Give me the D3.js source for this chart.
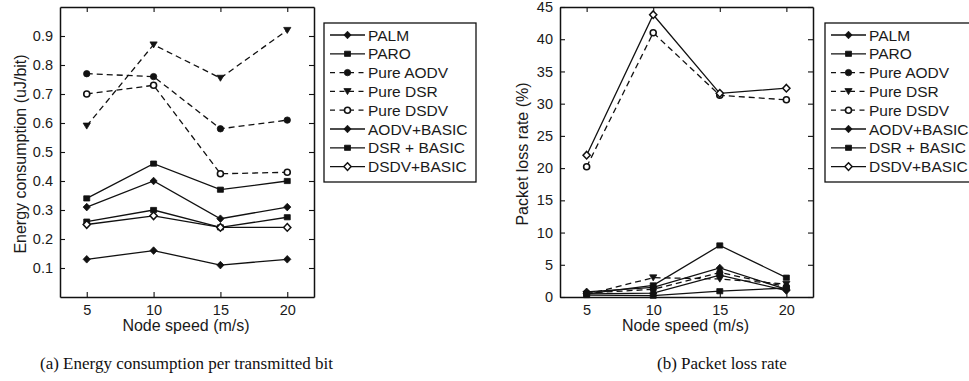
<!DOCTYPE html>
<html>
<head>
<meta charset="utf-8">
<script src="https://cdn.jsdelivr.net/npm/d3@7/dist/d3.min.js"></script>
<style>
  html, body { margin: 0; padding: 0; background: #fff; }
  svg { display: block; }
  .tick text { font-family: "Liberation Sans", Arial, sans-serif; font-size: 14.5px; fill: #1a1a1a; }
  .lbl { font-family: "Liberation Sans", Arial, sans-serif; font-size: 16px; fill: #1a1a1a; }
  .leg { font-family: "Liberation Sans", Arial, sans-serif; font-size: 15.5px; fill: #1a1a1a; }
  .cap { font-family: "Liberation Serif", "Times New Roman", serif; font-size: 17px; fill: #111; }
</style>
</head>
<body>
<svg id="fig" width="969" height="381"></svg>
<script>
// Node speeds (m/s) on the x axis
const speeds = [5, 10, 15, 20];
const xTicks = [5, 10, 15, 20];

const seriesNames = ["PALM", "PARO", "Pure AODV", "Pure DSR", "Pure DSDV",
                     "AODV+BASIC", "DSR + BASIC", "DSDV+BASIC"];

// (a) Energy consumption per transmitted bit (uJ/bit)
const energyPALM      = [0.13, 0.16, 0.11, 0.13];
const energyPARO      = [0.26, 0.30, 0.24, 0.275];
const energyPureAODV  = [0.77, 0.76, 0.58, 0.61];
const energyPureDSR   = [0.59, 0.87, 0.755, 0.92];
const energyPureDSDV  = [0.70, 0.73, 0.425, 0.43];
const energyAODVBasic = [0.31, 0.40, 0.27, 0.31];
const energyDSRBasic  = [0.34, 0.46, 0.37, 0.40];
const energyDSDVBasic = [0.25, 0.28, 0.24, 0.24];
const energyTicks = [0.1, 0.2, 0.3, 0.4, 0.5, 0.6, 0.7, 0.8, 0.9];

// (b) Packet loss rate (%)
const lossPALM      = [0.5, 0.6, 3.4, 1.0];
const lossPARO      = [0.3, 0.2, 0.9, 1.4];
const lossPureAODV  = [0.6, 1.2, 3.8, 1.6];
const lossPureDSR   = [0.4, 3.0, 2.8, 2.0];
const lossPureDSDV  = [20.2, 41.0, 31.3, 30.6];
const lossAODVBasic = [0.8, 1.5, 4.5, 1.2];
const lossDSRBasic  = [0.5, 1.8, 8.0, 3.0];
const lossDSDVBasic = [22.0, 43.8, 31.6, 32.4];
const lossTicks = [0, 5, 10, 15, 20, 25, 30, 35, 40, 45];

const energySeries = [energyPALM, energyPARO, energyPureAODV, energyPureDSR,
                      energyPureDSDV, energyAODVBasic, energyDSRBasic, energyDSDVBasic];
const lossSeries = [lossPALM, lossPARO, lossPureAODV, lossPureDSR,
                    lossPureDSDV, lossAODVBasic, lossDSRBasic, lossDSDVBasic];

// Line style and marker per protocol
const styles = {
  "PALM":        { dash: null,  marker: "diamond" },
  "PARO":        { dash: null,  marker: "square" },
  "Pure AODV":   { dash: "6,4", marker: "circle" },
  "Pure DSR":    { dash: "6,4", marker: "triangle" },
  "Pure DSDV":   { dash: "6,4", marker: "ocircle" },
  "AODV+BASIC":  { dash: null,  marker: "diamond" },
  "DSR + BASIC": { dash: null,  marker: "square" },
  "DSDV+BASIC":  { dash: null,  marker: "odiamond" }
};

const svg = d3.select("#fig");
const ink = "#111";

// compact marker glyphs, drawn around the origin
const glyph = {
  diamond:  "M0,-3.8L3.6,0L0,3.8L-3.6,0Z",
  square:   "M-3,-2.6H3V2.6H-3Z",
  triangle: "M-3.6,-2.8L3.6,-2.8L0,3.2Z",
  odiamond: "M0,-3.8L3.6,0L0,3.8L-3.6,0Z"
};

function drawMarker(g, kind, cx, cy) {
  const t = `translate(${cx},${cy})`;
  if (kind === "circle") {
    g.append("circle").attr("cx", cx).attr("cy", cy).attr("r", 3.2)
      .attr("fill", ink).attr("stroke", ink).attr("stroke-width", 0.8);
  } else if (kind === "ocircle") {
    g.append("circle").attr("cx", cx).attr("cy", cy).attr("r", 3.0)
      .attr("fill", "#fff").attr("stroke", ink).attr("stroke-width", 1.6);
  } else if (kind === "odiamond") {
    g.append("path").attr("transform", t).attr("d", glyph.odiamond)
      .attr("fill", "#fff").attr("stroke", ink).attr("stroke-width", 1.5);
  } else {
    g.append("path").attr("transform", t).attr("d", glyph[kind])
      .attr("fill", ink).attr("stroke", ink).attr("stroke-width", 0.8);
  }
}

function panel(opts) {
  const { left, right, top, bottom, yDomain, yTicks, yFmt, data, ylabel, ylabelX,
          legendX, caption, captionX } = opts;
  const x = d3.scaleLinear().domain([3, 22]).range([left, right]);
  const y = d3.scaleLinear().domain(yDomain).range([bottom, top]);
  const g = svg.append("g");

  // series lines and markers
  const line = d3.line().x(d => x(d[0])).y(d => y(d[1]));
  seriesNames.forEach((name, i) => {
    const pts = speeds.map((s, j) => [s, data[i][j]]);
    const st = styles[name];
    g.append("path").attr("d", line(pts)).attr("fill", "none")
      .attr("stroke", ink).attr("stroke-width", 1.3)
      .attr("stroke-dasharray", st.dash);
    pts.forEach(p => drawMarker(g, st.marker, x(p[0]), y(p[1])));
  });

  // axes with inward ticks on all four sides
  const tickLen = 5;
  const ax = (sel) => { sel.select(".domain").attr("stroke", ink).attr("stroke-width", 1.5);
                        sel.selectAll(".tick line").attr("stroke", ink).attr("stroke-width", 1.1); };
  g.append("g").attr("transform", `translate(0,${bottom})`)
    .call(d3.axisBottom(x).tickValues(xTicks).tickSize(-tickLen).tickSizeOuter(0).tickPadding(8)
      .tickFormat(d3.format("d"))).call(ax);
  g.append("g").attr("transform", `translate(0,${top})`)
    .call(d3.axisTop(x).tickValues(xTicks).tickSize(-tickLen).tickSizeOuter(0).tickFormat("")).call(ax);
  g.append("g").attr("transform", `translate(${left},0)`)
    .call(d3.axisLeft(y).tickValues(yTicks).tickSize(-tickLen).tickSizeOuter(0).tickPadding(7)
      .tickFormat(yFmt)).call(ax);
  g.append("g").attr("transform", `translate(${right},0)`)
    .call(d3.axisRight(y).tickValues(yTicks).tickSize(-tickLen).tickSizeOuter(0).tickFormat("")).call(ax);

  // axis titles
  g.append("text").attr("class", "lbl").attr("x", (left + right) / 2 - 1).attr("y", 331)
    .attr("text-anchor", "middle").text("Node speed (m/s)");
  g.append("text").attr("class", "lbl")
    .attr("transform", `translate(${ylabelX},${(top + bottom) / 2 + 2}) rotate(-90)`)
    .attr("text-anchor", "middle").text(ylabel);

  // caption
  g.append("text").attr("class", "cap").attr("x", captionX).attr("y", 369).text(caption);

  // legend
  const lg = svg.append("g");
  lg.append("rect").attr("x", legendX).attr("y", 23).attr("width", 152).attr("height", 159)
    .attr("fill", "#fff").attr("stroke", ink).attr("stroke-width", 1.3);
  seriesNames.forEach((name, i) => {
    const cy = 35 + i * 18.8;
    const st = styles[name];
    lg.append("line").attr("x1", legendX + 6).attr("x2", legendX + 41)
      .attr("y1", cy).attr("y2", cy).attr("stroke", ink).attr("stroke-width", 1.3)
      .attr("stroke-dasharray", st.dash ? "5,4.5" : null);
    drawMarker(lg, st.marker, legendX + 23.5, cy);
    lg.append("text").attr("class", "leg").attr("x", legendX + 44).attr("y", cy + 5.5).text(name);
  });
}

panel({
  left: 60, right: 314, top: 7, bottom: 297,
  yDomain: [0, 1], yTicks: energyTicks, yFmt: d3.format(".1f"),
  data: energySeries, ylabel: "Energy consumption (uJ/bit)", ylabelX: 26,
  legendX: 324, caption: "(a) Energy consumption per transmitted bit", captionX: 40
});

panel({
  left: 560, right: 813, top: 7, bottom: 297,
  yDomain: [0, 45], yTicks: lossTicks, yFmt: d3.format("d"),
  data: lossSeries, ylabel: "Packet loss rate (%)", ylabelX: 528,
  legendX: 825, caption: "(b) Packet loss rate", captionX: 657
});
</script>
</body>
</html>
